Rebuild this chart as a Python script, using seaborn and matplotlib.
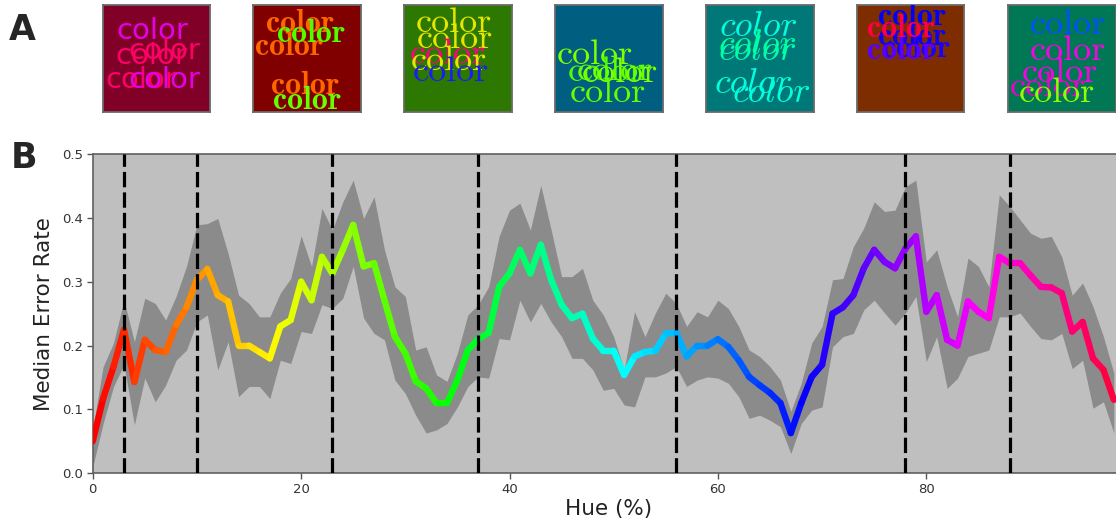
import numpy as np
import pandas as pd
import matplotlib
matplotlib.use("Agg")
import matplotlib.pyplot as plt
import seaborn as sns

# ---------------- data ----------------
hue_pct = list(range(0, 99))
median_err = [0.05, 0.117, 0.167, 0.225, 0.143, 0.209, 0.193, 0.19, 0.232, 0.26,
              0.303, 0.32, 0.279, 0.269, 0.2, 0.2, 0.19, 0.18, 0.23, 0.24,
              0.30, 0.271, 0.339, 0.313, 0.35, 0.389, 0.324, 0.329, 0.271, 0.214,
              0.188, 0.144, 0.133, 0.11, 0.11, 0.146, 0.193, 0.21, 0.22, 0.292,
              0.313, 0.35, 0.313, 0.358, 0.303, 0.264, 0.243, 0.25, 0.211, 0.192,
              0.192, 0.154, 0.183, 0.19, 0.192, 0.219, 0.22, 0.183, 0.2, 0.2,
              0.21, 0.198, 0.177, 0.151, 0.138, 0.126, 0.11, 0.063, 0.11, 0.151,
              0.17, 0.25, 0.26, 0.279, 0.321, 0.35, 0.331, 0.321, 0.352, 0.371,
              0.253, 0.279, 0.209, 0.2, 0.269, 0.253, 0.243, 0.339, 0.329, 0.329,
              0.31, 0.292, 0.291, 0.282, 0.222, 0.237, 0.18, 0.162, 0.115]
upper_err = [0.07, 0.167, 0.204, 0.271, 0.206, 0.274, 0.266, 0.24, 0.277, 0.324,
             0.389, 0.391, 0.399, 0.344, 0.279, 0.266, 0.245, 0.245, 0.282, 0.305,
             0.372, 0.324, 0.415, 0.381, 0.425, 0.459, 0.399, 0.433, 0.35, 0.292,
             0.277, 0.193, 0.198, 0.154, 0.144, 0.188, 0.248, 0.264, 0.292, 0.371,
             0.412, 0.423, 0.381, 0.451, 0.381, 0.308, 0.308, 0.321, 0.271, 0.248,
             0.214, 0.162, 0.253, 0.214, 0.251, 0.282, 0.266, 0.23, 0.253, 0.245,
             0.271, 0.258, 0.23, 0.193, 0.183, 0.167, 0.146, 0.097, 0.141, 0.204,
             0.23, 0.303, 0.305, 0.355, 0.384, 0.425, 0.41, 0.412, 0.449, 0.459,
             0.331, 0.35, 0.292, 0.245, 0.337, 0.324, 0.292, 0.436, 0.418, 0.397,
             0.376, 0.368, 0.371, 0.339, 0.279, 0.298, 0.261, 0.214, 0.157]
lower_err = [0.01, 0.078, 0.136, 0.17, 0.076, 0.149, 0.112, 0.138, 0.177, 0.193,
             0.237, 0.248, 0.162, 0.206, 0.12, 0.136, 0.136, 0.117, 0.177, 0.172,
             0.222, 0.219, 0.264, 0.258, 0.274, 0.324, 0.243, 0.219, 0.209, 0.146,
             0.125, 0.091, 0.063, 0.068, 0.078, 0.104, 0.136, 0.151, 0.149, 0.211,
             0.209, 0.271, 0.237, 0.266, 0.237, 0.214, 0.18, 0.18, 0.162, 0.13,
             0.133, 0.107, 0.104, 0.151, 0.151, 0.157, 0.167, 0.136, 0.146, 0.151,
             0.149, 0.141, 0.12, 0.086, 0.091, 0.083, 0.073, 0.031, 0.078, 0.099,
             0.104, 0.198, 0.214, 0.219, 0.256, 0.271, 0.251, 0.232, 0.251, 0.277,
             0.175, 0.214, 0.133, 0.149, 0.183, 0.188, 0.193, 0.245, 0.245, 0.251,
             0.23, 0.211, 0.209, 0.219, 0.164, 0.177, 0.102, 0.112, 0.063]
boundaries = [3, 10, 23, 37, 56, 78, 88]
x_ticks = [0, 20, 40, 60, 80]
y_ticks = [0.0, 0.1, 0.2, 0.3, 0.4, 0.5]

# Panel A: example stimuli
stim_bg = ['#800028', '#800000', '#2d7800', '#005f80', '#007878', '#7d2d00', '#007855']
stim_font = ['DejaVu Sans', 'cmb10', 'cmr10', 'cmr10', 'cmmi10', 'cmb10', 'cmr10']
stim_size = [21, 23, 26, 26, 26, 23, 26]
stim_words = [
    [(0.13, 0.32, '#e600e6'), (0.245, 0.505, '#ff0066'), (0.12, 0.55, '#ff0066'),
     (0.025, 0.776, '#ff0066'), (0.245, 0.776, '#e600e6')],
    [(0.12, 0.26, '#ff6600'), (0.02, 0.47, '#ff6600'), (0.17, 0.83, '#ff6600'),
     (0.22, 0.35, '#4dff00'), (0.19, 0.97, '#66ff00')],
    [(0.11, 0.26, '#e6e600'), (0.12, 0.40, '#e6e600'), (0.05, 0.54, '#ff0080'),
     (0.06, 0.61, '#e6e600'), (0.08, 0.71, '#1a1aff')],
    [(0.015, 0.55, '#80ff00'), (0.12, 0.71, '#4dff00'), (0.2, 0.70, '#66ff00'),
     (0.25, 0.72, '#80ff00'), (0.14, 0.91, '#66ff00')],
    [(0.13, 0.29, '#00ffdd'), (0.12, 0.46, '#00ff99'), (0.12, 0.52, '#00ffaa'),
     (0.08, 0.82, '#00ffdd'), (0.25, 0.91, '#00ffdd')],
    [(0.2, 0.19, '#0000ff'), (0.2, 0.38, '#1400f0'), (0.23, 0.49, '#1a00ff'),
     (0.09, 0.505, '#5a00ff'), (0.09, 0.30, '#ff0040')],
    [(0.2, 0.27, '#0050ff'), (0.2, 0.52, '#ff00e6'), (0.13, 0.72, '#ff00e6'),
     (0.02, 0.85, '#f000c8'), (0.1, 0.91, '#8cff00')],
]
stim_left_px = [102.5, 253, 404, 555, 706, 857, 1008]

# ---------------- style ----------------
sns.set_style("white")
plt.rcParams['font.family'] = ['DejaVu Sans']
W, H = 1116, 522
fig = plt.figure(figsize=(W / 100, H / 100), dpi=100)

# ---------------- panel B ----------------
ax = fig.add_axes([92.7 / W, (H - 473.3) / H, 99 * 10.42 / W, 319.3 / H])
ax.set_facecolor('#bfbfbf')
ax.fill_between(hue_pct, lower_err, upper_err, color='#8b8b8b', lw=0, zorder=1)

cmap = plt.get_cmap('hsv')
rows = []
for i in range(len(hue_pct) - 1):
    rows.append((i, hue_pct[i], median_err[i]))
    rows.append((i, hue_pct[i + 1], median_err[i + 1]))
seg_df = pd.DataFrame(rows, columns=['seg', 'hue', 'err'])
pal = {i: cmap(hue_pct[i] / 100.0) for i in range(len(hue_pct) - 1)}
sns.lineplot(data=seg_df, x='hue', y='err', hue='seg', palette=pal,
             estimator=None, sort=False, legend=False, lw=4.6,
             solid_capstyle='round', ax=ax, zorder=3)

for b in boundaries:
    ax.axvline(b, color='black', lw=2.3, dashes=(4.8, 1.6), zorder=4)

ax.set_xlim(0, 99)
ax.set_ylim(0, 0.5)
ax.set_xticks(x_ticks)
ax.set_yticks(y_ticks)
ax.set_xticklabels([str(t) for t in x_ticks])
ax.set_yticklabels([f"{t:.1f}" for t in y_ticks])
ax.tick_params(axis='both', which='both', direction='out', length=4, width=1,
               color='#555555', labelsize=9.5, labelcolor='#333333',
               bottom=True, left=True, top=False, right=False, pad=3)
for s in ax.spines.values():
    s.set_color('#606060')
    s.set_linewidth(1.2)
ax.set_xlabel('Hue (%)', fontsize=15.5, color='#222222', labelpad=2)
ax.set_ylabel('Median Error Rate', fontsize=15.5, color='#222222', labelpad=6)

# ---------------- panel A ----------------
size_px = 107.5
for k in range(len(stim_bg)):
    a = fig.add_axes([stim_left_px[k] / W, (H - 4.5 - size_px) / H, size_px / W, size_px / H])
    a.set_facecolor(stim_bg[k])
    a.set_xlim(0, 1)
    a.set_ylim(1, 0)
    a.set_xticks([])
    a.set_yticks([])
    for s in a.spines.values():
        s.set_color('#6a6a6a')
        s.set_linewidth(1.3)
    for (wx, wy, wc) in stim_words[k]:
        a.text(wx, wy, 'color', color=wc, family=stim_font[k], fontsize=stim_size[k],
               ha='left', va='baseline', clip_on=True)

fig.text(9 / W, 1 - 40 / H, 'A', fontsize=25, fontweight='bold', va='baseline', ha='left')
fig.text(11 / W, 1 - 168 / H, 'B', fontsize=25, fontweight='bold', va='baseline', ha='left')

fig.savefig('out.png', dpi=100)
